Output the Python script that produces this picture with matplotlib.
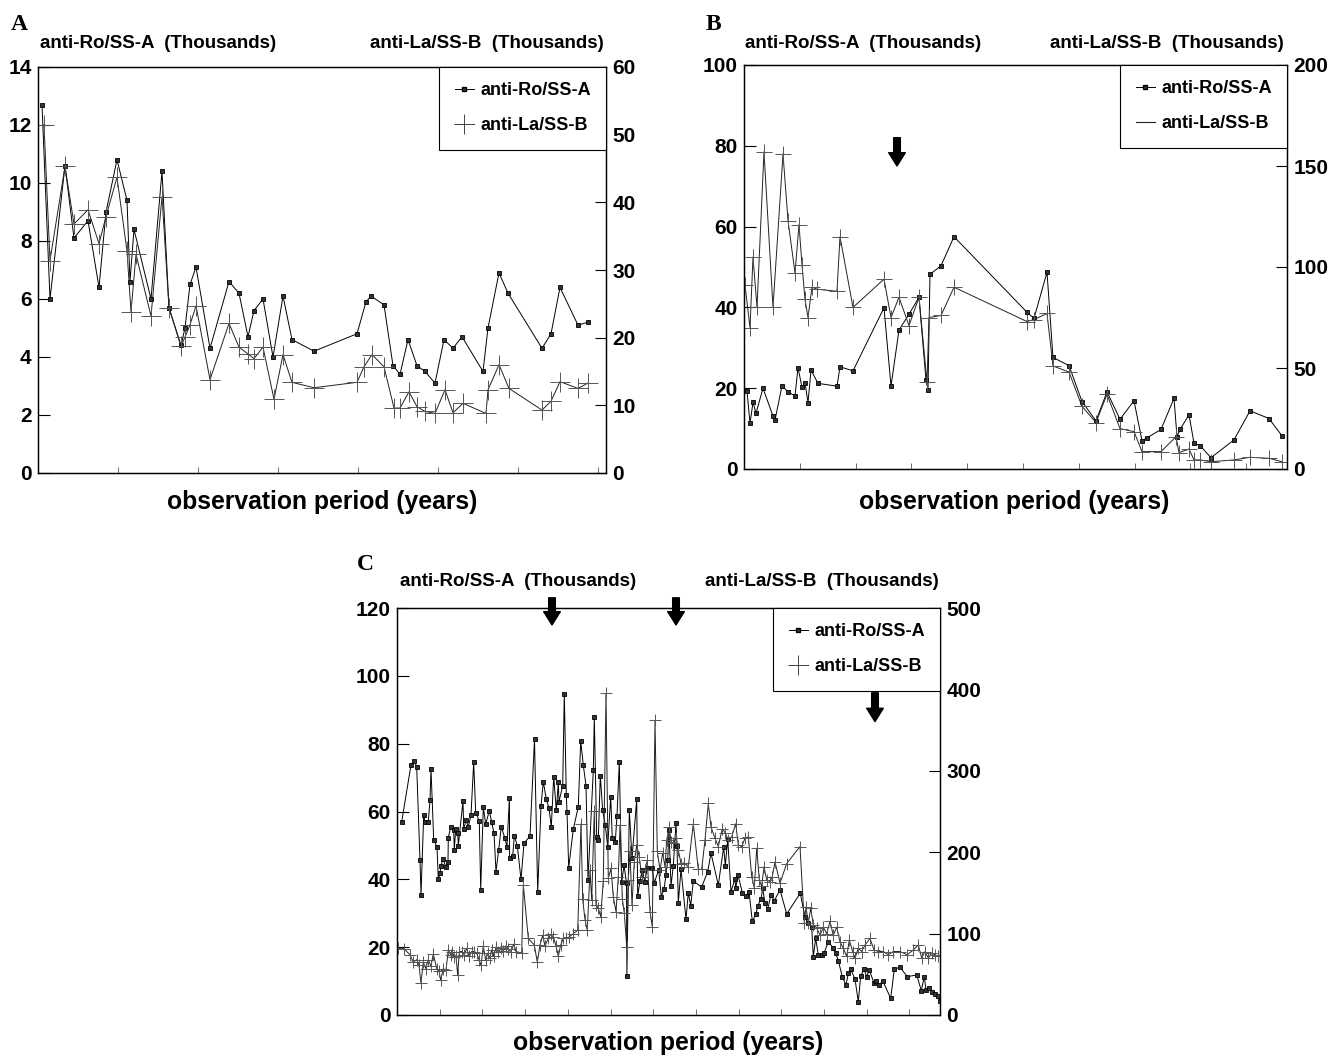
import matplotlib
matplotlib.use("Agg")
import matplotlib.pyplot as plt
from matplotlib.lines import Line2D

plt.rcParams['font.family'] = ['Liberation Sans', 'DejaVu Sans']
plt.rcParams['font.weight'] = 'bold'

# ---- panel A (time in arbitrary units, ~80 per year) ----
a_ro_t = [4, 12, 27, 36, 50, 61, 68, 79, 89, 92, 96, 113, 124, 131, 143, 147, 152, 158, 172, 191,
          201, 210, 216, 225, 235, 245, 254, 276, 319, 328, 333, 346, 355, 362, 370, 379, 387, 397, 406, 415,
          424, 445, 450, 461, 470, 504, 513, 522, 540, 550]
a_ro = [12.7, 6.0, 10.6, 8.1, 8.7, 6.4, 9.0, 10.8, 9.4, 6.6, 8.4, 6.0, 10.4, 5.7, 4.4, 5.0, 6.5, 7.1, 4.3, 6.6,
        6.2, 4.7, 5.6, 6.0, 4.0, 6.1, 4.6, 4.2, 4.8, 5.9, 6.1, 5.8, 3.7, 3.4, 4.6, 3.7, 3.5, 3.1, 4.6, 4.3,
        4.7, 3.5, 5.0, 6.9, 6.2, 4.3, 4.8, 6.4, 5.1, 5.2]
a_la_t = [6, 12, 27, 36, 50, 61, 68, 79, 89, 93, 98, 113, 124, 131, 143, 147, 152, 158, 172, 191,
          201, 210, 216, 225, 236, 245, 254, 276, 319, 326, 334, 346, 356, 362, 371, 379, 387, 397, 407, 415,
          425, 448, 450, 461, 471, 504, 513, 522, 540, 550]
a_la = [51.5, 31.4, 45.3, 36.8, 38.9, 33.9, 37.9, 43.7, 32.8, 23.8, 32.3, 23.2, 40.8, 24.4, 18.7, 20.1, 21.9, 24.7, 13.8, 22.1,
        18.6, 17.6, 16.9, 18.6, 10.9, 17.5, 13.4, 12.6, 13.4, 15.7, 17.5, 15.7, 9.6, 9.6, 12.0, 9.8, 9.1, 8.8, 12.3, 8.9,
        10.3, 8.8, 12.3, 16.0, 12.5, 9.3, 10.6, 13.5, 12.5, 13.3]

# ---- panel B (~56 per year) ----
b_ro_t = [3, 6, 9, 12, 19, 29, 31, 38, 44, 51, 54, 58, 61, 64, 67, 74, 93, 96, 109, 140,
          147, 155, 165, 175, 182, 184, 186, 197, 210, 283, 290, 303, 309, 325, 338, 352, 363, 376, 390, 398,
          403, 417, 430, 433, 436, 445, 450, 456, 467, 490, 506, 525, 538]
b_ro = [19.3, 11.3, 16.5, 13.8, 20.0, 13.1, 12.1, 20.6, 19.1, 18.1, 25.1, 20.2, 21.4, 16.4, 24.5, 21.2, 20.5, 25.3, 24.3, 39.9,
        20.5, 34.4, 38.3, 42.5, 22.0, 19.6, 48.2, 50.3, 57.5, 38.8, 37.3, 48.7, 27.6, 25.6, 16.7, 11.9, 19.1, 12.3, 16.9, 7.0,
        7.7, 9.8, 17.5, 8.0, 9.8, 13.4, 6.4, 5.8, 2.8, 7.2, 14.4, 12.5, 8.2]
b_la_t = [1, 6, 9, 13, 20, 29, 39, 44, 51, 55, 58, 61, 64, 68, 73, 93, 96, 109, 140, 147,
          155, 165, 175, 183, 185, 197, 210, 283, 290, 303, 309, 325, 338, 352, 363, 376, 390, 398, 417, 432,
          435, 445, 450, 456, 467, 490, 506, 525, 538]
b_la = [91, 70, 105, 80, 157, 80, 156, 123, 97, 121, 101, 84, 75, 90, 89, 88, 115, 80, 94, 75,
        85, 71, 85, 43, 75, 76, 90, 73, 74, 77, 51, 48, 31, 23, 37, 20, 18.5, 8.6, 8.6, 16,
        8.1, 9.9, 4.5, 4.5, 3.6, 4.5, 5.8, 5.3, 3.6]

# ---- panel C (~43 per year) ----
c_ro_t = [4.7, 14.0, 17.3, 19.7, 23.0, 24.0, 26.7, 28.0, 31.3, 33.0, 34.0, 36.7, 40.0, 41.3, 43.0, 44.0, 46.0, 48.7, 51.0, 51.3,
          53.7, 56.7, 57.3, 58.7, 60.7, 61.3, 66.0, 66.7, 69.0, 71.3, 74.0, 76.7, 78.7, 82.3, 83.7, 86.3, 88.7, 92.3, 94.7, 97.0,
          99.0, 101.7, 104.3, 107.7, 110.0, 112.4, 112.6, 115.7, 117.3, 120.3, 124.0, 127.0, 133.0, 137.5, 140.7, 144.0, 146.3, 149.3, 152.0, 154.3,
          156.7, 159.3, 161.3, 162.0, 165.7, 167.3, 169.3, 170.0, 171.7, 176.3, 181.3, 183.7, 186.3, 189.0, 191.0, 196.3, 197.3, 199.7, 201.3, 203.3,
          205.7, 208.3, 210.7, 213.7, 215.3, 218.3, 220.0, 222.3, 224.7, 227.0, 229.5, 229.9, 232.3, 235.0, 239.7, 240.7, 243.0, 245.3, 247.7, 250.3,
          255.0, 257.3, 261.7, 264.3, 267.0, 269.0, 270.7, 272.0, 274.0, 276.3, 279.0, 280.0, 281.3, 284.0, 289.0, 291.3, 293.7, 296.3, 304.7, 310.7,
          314.0, 321.3, 326.7, 328.3, 330.7, 334.0, 338.0, 338.7, 341.0, 345.3, 348.7, 352.0, 355.3, 359.0, 360.7, 364.0, 365.7, 368.0, 370.7, 374.0,
          377.3, 383.0, 389.7, 403.3, 408.0, 411.0, 414.7, 416.3, 418.7, 421.3, 424.7, 427.0, 431.3, 436.3, 438.7, 441.3, 445.3, 449.0, 451.3, 453.7,
          458.0, 461.3, 463.7, 467.0, 469.7, 472.3, 477.0, 479.0, 482.3, 485.7, 493.7, 497.3, 503.0, 510.3, 519.7, 524.3, 527.3, 529.0, 532.3, 534.7,
          538.0, 540.7, 543.0]
c_ro = [57.0, 73.7, 75.0, 73.1, 45.7, 35.4, 59.0, 57.0, 57.0, 63.4, 72.6, 51.6, 49.6, 40.0, 41.8, 44.0, 46.1, 43.7, 45.2, 52.3,
        55.4, 54.4, 48.7, 54.8, 53.8, 49.9, 63.1, 54.8, 57.5, 55.5, 59.0, 74.5, 59.7, 57.2, 36.9, 61.3, 56.3, 60.2, 56.8, 53.6,
        42.3, 48.7, 55.5, 52.3, 49.6, 64.1, 46.2, 46.9, 52.8, 49.9, 40.0, 50.6, 52.8, 81.3, 36.2, 61.7, 68.8, 63.6, 61.0, 55.4,
        70.3, 60.3, 68.6, 62.9, 67.6, 94.7, 64.9, 59.9, 43.4, 54.8, 61.4, 80.8, 73.7, 67.6, 39.8, 72.1, 87.8, 52.6, 51.6, 70.6,
        60.3, 55.9, 49.6, 64.4, 52.1, 51.1, 58.8, 74.5, 39.1, 44.2, 38.8, 11.5, 60.3, 46.2, 63.6, 35.1, 39.6, 42.8, 39.3, 43.3,
        43.3, 39.0, 42.8, 34.9, 37.1, 41.3, 45.7, 54.6, 38.1, 44.0, 56.6, 49.9, 33.0, 43.0, 28.2, 36.1, 32.2, 39.5, 37.7, 42.3,
        47.7, 38.3, 49.6, 44.0, 51.9, 36.4, 40.1, 37.4, 41.3, 36.1, 35.1, 36.4, 27.7, 29.8, 32.2, 34.1, 37.4, 33.0, 31.2, 35.4,
        33.7, 36.9, 29.8, 35.9, 28.8, 27.1, 26.0, 17.2, 22.6, 17.7, 17.7, 18.2, 21.6, 19.7, 18.2, 16.0, 11.3, 8.8, 12.3, 13.5,
        10.6, 3.9, 11.5, 13.5, 11.3, 13.3, 9.4, 10.1, 8.8, 10.1, 4.9, 13.5, 14.1, 11.3, 11.8, 7.2, 11.3, 7.4, 8.1, 6.9,
        6.2, 5.6, 4.2]
c_la_t = [1.3, 7.3, 13.0, 16.3, 19.7, 22.0, 24.0, 26.3, 28.7, 31.3, 34.0, 36.3, 39.7, 42.0, 43.7, 46.3, 49.0, 51.3, 53.7, 55.3,
          57.3, 59.0, 60.7, 62.3, 64.7, 67.3, 69.7, 72.0, 74.7, 77.3, 79.7, 82.0, 84.0, 86.3, 88.7, 90.7, 93.0, 94.7, 96.7, 99.0,
          101.3, 104.0, 106.3, 109.0, 111.3, 114.0, 116.7, 119.0, 124.7, 126.3, 131.3, 137.3, 140.3, 143.0, 145.7, 148.0, 151.3, 153.7, 156.3, 159.0,
          161.3, 163.7, 166.3, 169.0, 172.3, 176.3, 180.7, 184.0, 185.7, 188.0, 190.3, 193.0, 194.7, 197.3, 199.0, 201.3, 203.7, 206.3, 209.0, 211.3,
          214.0, 216.3, 219.0, 221.3, 223.0, 225.3, 227.3, 229.7, 231.3, 233.0, 235.0, 237.3, 239.7, 242.3, 244.7, 248.0, 250.3, 253.0, 255.3, 258.0,
          260.3, 263.0, 265.7, 268.0, 269.7, 272.3, 274.0, 276.3, 279.0, 281.3, 284.0, 287.3, 291.3, 296.3, 301.3, 304.7, 308.0, 311.3, 314.0, 318.0,
          321.3, 325.3, 328.0, 331.3, 334.7, 338.7, 341.3, 344.7, 348.0, 351.3, 354.7, 357.3, 359.7, 362.3, 364.7, 367.0, 369.7, 373.0, 375.3, 378.0,
          383.0, 389.7, 403.0, 407.3, 409.0, 411.3, 413.7, 416.3, 419.7, 423.0, 426.3, 429.7, 433.0, 436.3, 439.7, 443.0, 446.3, 449.7, 452.3, 455.7,
          458.0, 461.3, 464.7, 468.0, 473.0, 477.0, 481.3, 486.3, 491.3, 496.3, 503.0, 510.3, 516.3, 521.3, 524.7, 528.0, 531.3, 534.7, 538.0, 541.3]
c_la = [82, 81, 74, 65, 68, 61, 39, 65, 57, 68, 60, 75, 57, 54, 43, 57, 55, 80, 74, 78,
        71, 72, 49, 78, 78, 74, 82, 72, 78, 78, 76, 68, 61, 85, 67, 76, 70, 80, 72, 83,
        77, 82, 79, 85, 81, 78, 87, 78, 76, 160, 94, 86, 65, 86, 98, 85, 94, 99, 96, 85,
        72, 86, 94, 94, 96, 100, 104, 235, 142, 117, 104, 178, 141, 251, 135, 131, 121, 165, 395, 168,
        180, 145, 127, 169, 233, 143, 125, 84, 166, 201, 135, 188, 209, 194, 170, 178, 190, 127, 108, 362,
        201, 178, 199, 182, 215, 231, 213, 211, 217, 203, 186, 187, 182, 235, 179, 179, 215, 260, 231, 217,
        207, 229, 224, 215, 219, 235, 209, 207, 217, 219, 170, 156, 205, 166, 158, 182, 166, 164, 170, 188,
        162, 186, 207, 113, 133, 113, 131, 111, 107, 98, 108, 100, 115, 98, 108, 90, 82, 72, 92, 78,
        70, 82, 78, 86, 94, 80, 78, 78, 74, 78, 78, 74, 80, 86, 70, 78, 70, 76, 74, 72]

ro_name = 'anti-Ro/SS-A'
la_name = 'anti-La/SS-B'
ro_title = 'anti-Ro/SS-A  (Thousands)'
la_title = 'anti-La/SS-B  (Thousands)'
x_title = 'observation period (years)'

W, H = 1332, 1057
fig = plt.figure(figsize=(W / 100, H / 100), dpi=100)


def box(l, t, r, b):
    return [l / W, 1 - b / H, (r - l) / W, (b - t) / H]


def ftext(x, y, s, **kw):
    fig.text(x / W, 1 - y / H, s, **kw)


def panel(rect, span, year, ro_t, ro, la_t, la, lmax, lstep, rmax, rstep,
          sq, cross, la_legend_marker, arrows):
    ax = fig.add_axes(rect)
    ax2 = ax.twinx()
    ax.plot(ro_t, ro, color='black', lw=0.7, marker='s', ms=sq, mfc='#333', mec='black', mew=0.6, zorder=3)
    ax2.plot(la_t, la, color='#222', lw=0.7, marker='+', ms=cross, mec='#555', mew=0.7)
    ax.set_xlim(0, span)
    ax.set_ylim(0, lmax)
    ax2.set_ylim(0, rmax)
    ax.set_yticks(range(0, lmax + 1, lstep))
    ax2.set_yticks(range(0, rmax + 1, rstep))
    yrs = [year * k for k in range(1, int(span / year) + 1)]
    ax.set_xticks(yrs)
    ax.set_xticklabels([])
    ax.tick_params(axis='x', direction='in', length=4, width=0.6, colors='#555')
    ax.tick_params(axis='y', direction='in', length=8.5, width=0.8, labelsize=15, pad=4.5)
    ax2.tick_params(axis='y', direction='in', length=8, width=0.8, labelsize=15, pad=4.5)
    for a in (ax, ax2):
        for s in a.spines.values():
            s.set_linewidth(0.9)
    if la_legend_marker:
        h_la = Line2D([], [], color='#222', lw=0.7, marker='+', ms=14, mec='#444', mew=0.7)
    else:
        h_la = Line2D([], [], color='#222', lw=0.8)
    h_ro = Line2D([], [], color='black', lw=0.7, marker='s', ms=3, mfc='#333', mec='black')
    leg = ax2.legend([h_ro, h_la], [ro_name, la_name], loc='upper right', bbox_to_anchor=(1, 1),
                     borderaxespad=0, fancybox=False, edgecolor='black', framealpha=1,
                     handlelength=1.05, handletextpad=0.35, labelspacing=1.0, borderpad=0.85,
                     prop={'size': 13, 'weight': 'bold'})
    leg.get_frame().set_linewidth(0.8)
    for (x, y0, y1) in arrows:
        ax.annotate('', xy=(x, y1), xytext=(x, y0), annotation_clip=False,
                    arrowprops=dict(arrowstyle='simple,head_width=0.75,head_length=0.6,tail_width=0.3',
                                    fc='black', ec='black', mutation_scale=16, shrinkA=0, shrinkB=0))
    return ax


# panel A
panel(box(38, 67, 606, 473), 568, 80, a_ro_t, a_ro, a_la_t, a_la, 14, 2, 60, 10,
      3.2, 14, True, [])
ftext(11, 24, 'A', fontsize=17, family='Liberation Serif', weight='bold', va='center')
ftext(40, 43, ro_title, fontsize=13.5, va='center')
ftext(370, 43, la_title, fontsize=13.5, va='center')
ftext(322, 502, x_title, fontsize=17.8, ha='center', va='center')

# panel B
panel(box(744, 65, 1287, 469), 543, 55.8, b_ro_t, b_ro, b_la_t, b_la, 100, 20, 200, 50,
      3.0, 12, False, [(153, 82, 75)])
ftext(706, 24, 'B', fontsize=17, family='Liberation Serif', weight='bold', va='center')
ftext(745, 43, ro_title, fontsize=13.5, va='center')
ftext(1050, 43, la_title, fontsize=13.5, va='center')
ftext(1014, 502, x_title, fontsize=17.8, ha='center', va='center')

# panel C
panel(box(397, 608, 940, 1015), 543, 42.7, c_ro_t, c_ro, c_la_t, c_la, 120, 20, 500, 100,
      2.6, 9, True, [(155, 123, 115), (279, 123, 115), (478, 95, 86.5)])
ftext(357, 564, 'C', fontsize=17, family='Liberation Serif', weight='bold', va='center')
ftext(400, 582, ro_title, fontsize=13.5, va='center')
ftext(705, 582, la_title, fontsize=13.5, va='center')
ftext(668, 1043, x_title, fontsize=17.8, ha='center', va='center')

fig.savefig('out.png', dpi=100)
